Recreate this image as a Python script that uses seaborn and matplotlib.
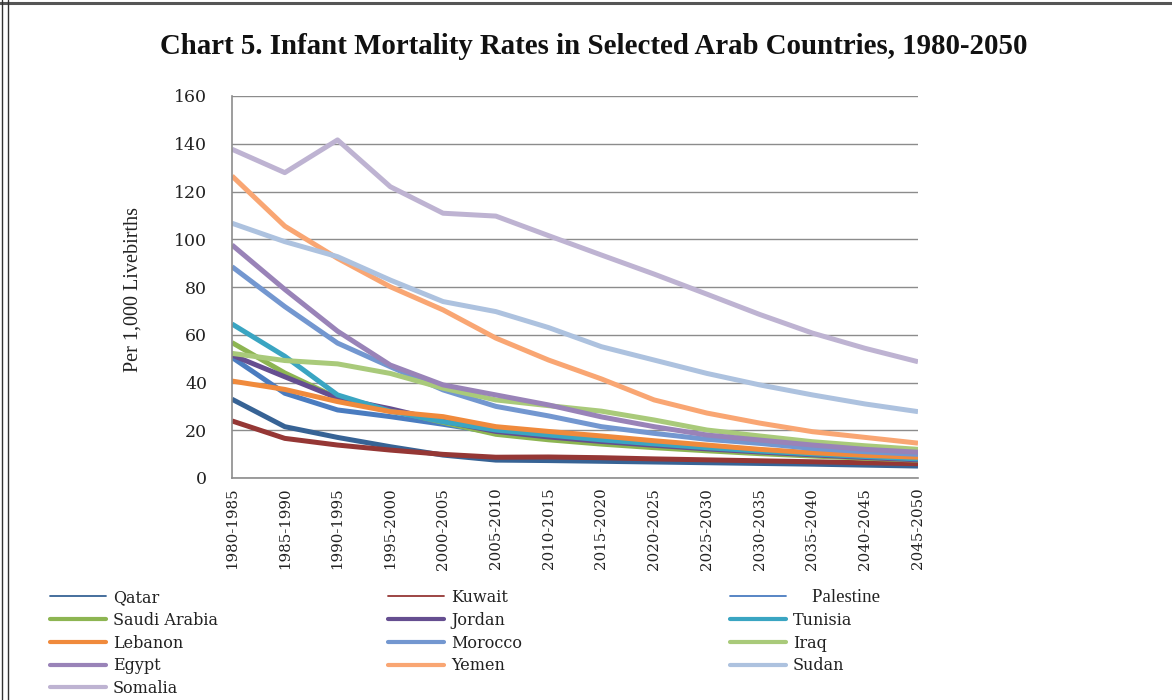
import matplotlib
matplotlib.use("Agg")
import matplotlib.pyplot as plt
from matplotlib.lines import Line2D
import seaborn as sns
import pandas as pd

periods = ["1980-1985", "1985-1990", "1990-1995", "1995-2000", "2000-2005",
           "2005-2010", "2010-2015", "2015-2020", "2020-2025", "2025-2030",
           "2030-2035", "2035-2040", "2040-2045", "2045-2050"]

qatar = [33.0, 21.5, 17.0, 13.1, 9.6, 7.5, 7.3, 7.0, 6.7, 6.4, 6.1, 5.8, 5.4, 5.0]
kuwait = [23.9, 16.6, 13.8, 11.7, 9.9, 8.7, 8.8, 8.5, 8.0, 7.6, 7.2, 6.8, 6.4, 6.0]
palestine = [50.5, 35.5, 28.5, 25.7, 22.5, 19.0, 17.0, 15.3, 13.7, 12.3, 11.0, 9.9, 8.8, 7.8]
saudi_arabia = [56.7, 44.0, 33.5, 28.5, 23.3, 18.3, 16.0, 14.2, 12.7, 11.4, 10.2, 9.2, 8.3, 7.5]
jordan = [51.5, 42.4, 33.5, 29.0, 23.8, 19.5, 17.2, 15.3, 13.7, 12.2, 10.9, 9.7, 8.6, 7.6]
tunisia = [64.5, 51.0, 34.8, 28.0, 23.6, 20.1, 18.0, 16.0, 14.3, 12.7, 11.3, 10.1, 9.0, 8.0]
lebanon = [40.6, 37.1, 32.0, 27.8, 25.7, 21.5, 19.5, 17.6, 15.6, 13.8, 12.0, 10.6, 9.5, 8.7]
morocco = [88.5, 71.8, 56.5, 46.6, 36.9, 30.0, 26.0, 21.5, 18.7, 16.2, 14.5, 12.4, 11.0, 9.9]
iraq = [52.2, 49.2, 47.8, 43.8, 37.6, 32.7, 30.3, 28.0, 24.3, 20.1, 17.6, 15.2, 13.5, 12.0]
egypt = [97.6, 79.0, 61.5, 47.3, 39.0, 34.8, 30.6, 25.6, 21.5, 18.0, 15.9, 13.8, 12.0, 10.8]
yemen = [126.5, 105.5, 92.0, 80.1, 70.4, 58.6, 49.4, 41.5, 32.7, 27.2, 23.0, 19.4, 17.0, 14.6]
sudan = [106.7, 99.0, 92.7, 82.9, 73.9, 69.7, 63.0, 55.0, 49.4, 43.8, 39.0, 34.8, 31.0, 27.8]
somalia = [137.7, 127.9, 141.6, 122.0, 110.9, 109.7, 101.5, 93.4, 85.4, 77.0, 68.5, 60.7, 54.3, 48.7]

countries = ["Qatar", "Kuwait", "Palestine", "Saudi Arabia", "Jordan", "Tunisia",
             "Lebanon", "Morocco", "Iraq", "Egypt", "Yemen", "Sudan", "Somalia"]
series = [qatar, kuwait, palestine, saudi_arabia, jordan, tunisia,
          lebanon, morocco, iraq, egypt, yemen, sudan, somalia]

colors = {
    "Qatar": "#376395", "Kuwait": "#953735", "Palestine": "#4A7CC0",
    "Saudi Arabia": "#8DB552", "Jordan": "#654E90", "Tunisia": "#3AA5C2",
    "Lebanon": "#F08A3C", "Morocco": "#7397D0", "Iraq": "#A9CA7A",
    "Egypt": "#9983B8", "Yemen": "#F9A673", "Sudan": "#ADC2DF",
    "Somalia": "#BEB3D2",
}

rows = []
for name, vals in zip(countries, series):
    for i, v in enumerate(vals):
        rows.append({"country": name, "idx": i, "rate": v})
df = pd.DataFrame(rows)

sns.set_style("white")
plt.rcParams["font.family"] = ["Liberation Serif", "DejaVu Serif"]
WIDE = "DejaVu Serif"
TEXT = "#222222"

fig = plt.figure(figsize=(11.72, 7.0), dpi=100)
ax = fig.add_axes([232 / 1172, 1 - 478 / 700, (918 - 232) / 1172, (478 - 96) / 700])

sns.lineplot(data=df, x="idx", y="rate", hue="country", hue_order=countries,
             palette=colors, linewidth=3.6, legend=False, sort=False, ax=ax)
for ln in ax.lines:
    ln.set_solid_joinstyle("round")
    ln.set_solid_capstyle("butt")

ax.set_xlim(0, len(periods) - 1)
ax.set_ylim(0, 160)
ax.set_yticks(range(0, 161, 20))
ax.set_xticks(range(len(periods)))
ax.set_xticklabels(periods, rotation=90, fontsize=10.8, family=WIDE, color=TEXT)
for lab in ax.get_yticklabels():
    lab.set_family(WIDE)
ax.tick_params(axis="y", length=0, pad=18, labelsize=12.5, labelcolor=TEXT)
ax.tick_params(axis="x", length=5, width=1, color="#8a8a8a", direction="out", pad=2)

ax.yaxis.grid(True, color="#8c8c8c", linewidth=1.0)
ax.set_axisbelow(True)
for side in ["top", "right"]:
    ax.spines[side].set_visible(False)
for side in ["left", "bottom"]:
    ax.spines[side].set_color("#8c8c8c")
    ax.spines[side].set_linewidth(1.2)

ax.set_xlabel("")
ax.set_ylabel("Per 1,000 Livebirths", fontsize=14.5, color=TEXT)
ax.yaxis.set_label_coords((143 - 232) / 686, (478 - 290) / 382)

fig.suptitle("Chart 5. Infant Mortality Rates in Selected Arab Countries, 1980-2050",
             x=594 / 1172, y=1 - 46 / 700, fontsize=20.8, fontweight="bold",
             va="center", color="#111111")

# legend: three hand-placed columns below the plot
thin = {"Qatar", "Kuwait", "Palestine"}
legend_cols = [
    (["Qatar", "Saudi Arabia", "Lebanon", "Egypt", "Somalia"], 50),
    (["Kuwait", "Jordan", "Morocco", "Yemen"], 388),
    (["Palestine", "Tunisia", "Iraq", "Sudan"], 730),
]
for names, x0 in legend_cols:
    handles = [Line2D([], [], color=colors[n], linewidth=1.3 if n in thin else 3.0)
               for n in names]
    leg = fig.legend(handles, names, loc="upper left",
                     bbox_to_anchor=(x0 / 1172, 1 - 589 / 700),
                     frameon=False, prop={"family": WIDE, "size": 11.5},
                     handlelength=3.5, handletextpad=0.45, labelspacing=0.36,
                     borderpad=0, borderaxespad=0)
    for t in leg.get_texts():
        t.set_color(TEXT)
        if t.get_text() == "Palestine":
            t.set_text("    Palestine")
            t.set_family("Liberation Serif")
            t.set_fontsize(13.5)

# page frame
fig.add_artist(Line2D([0, 1], [1 - 3 / 700, 1 - 3 / 700], transform=fig.transFigure,
                      color="#555555", linewidth=2.2))
for xpx in (2, 7.5):
    fig.add_artist(Line2D([xpx / 1172, xpx / 1172], [0, 1], transform=fig.transFigure,
                          color="#333333", linewidth=1.0))

fig.savefig("out.png", dpi=100)
